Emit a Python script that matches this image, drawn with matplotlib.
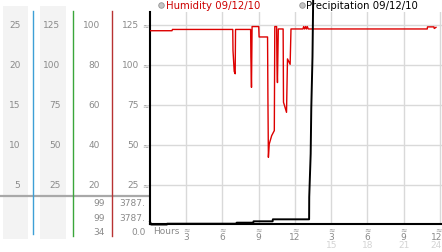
import matplotlib
matplotlib.use("Agg")
import matplotlib.pyplot as plt
from matplotlib.transforms import blended_transform_factory

# ---------------- data ----------------
hum_hours = [0, 1.82, 1.86, 6.85, 6.87, 6.97, 7.05, 7.08, 8.33, 8.35, 8.40, 8.45,
             9.00, 9.03, 9.73, 9.76, 9.80, 9.87, 10.07, 10.29, 10.33, 10.48, 10.51,
             10.55, 10.62, 11.02, 11.05, 11.30, 11.38, 11.60, 11.67, 12.66, 12.72,
             12.80, 12.88, 12.95, 13.02, 13.10, 13.40, 22.95, 22.97, 23.50, 23.53,
             23.67]
hum_values = [121.4, 121.4, 122.2, 122.2, 109, 96, 94.5, 122.2, 122.2, 105, 86, 124,
              124, 117.5, 117.5, 80, 42.3, 50.6, 55.8, 59, 124, 124, 100,
              89, 122.5, 122.5, 76.7, 70.4, 103.8, 100.4, 122.5, 122.5, 124,
              122.5, 124, 122.5, 124, 122.5, 122.5, 122.5, 123.8, 123.8, 122.8,
              123.5]

precip_hours = [0, 0.10, 1.40, 1.42, 7.15, 7.18, 8.55, 8.57, 10.15, 10.17, 13.17,
                13.18, 13.30, 13.35, 13.45, 13.52]
precip_values = [0.41, 0.06, 0.06, 0.16, 0.16, 0.29, 0.29, 0.46, 0.46, 0.71, 0.71,
                 3.5, 8.9, 14.6, 21, 30]

x_ticks = [3, 6, 9, 12, 15, 18, 21, 24]
x_labels_top = ["3", "6", "9", "12", "3", "6", "9", "12"]
x_labels_bottom = ["", "", "", "", "15", "18", "21", "24"]

hum_ticks = [25, 50, 75, 100, 125]            # column 4 (humidity axis)
col1_labels = [5, 10, 15, 20, 25]             # precipitation scale
col2_labels = [25, 50, 75, 100, 125]
col3_labels = [20, 40, 60, 80, 100]

col3_stats = ["99", "99", "34"]
col4_stats = ["3787.", "3787.", "0.0"]

legend_labels = ["Humidity 09/12/10", "Precipitation 09/12/10"]

# ---------------- figure ----------------
W, H = 442, 253
fig = plt.figure(figsize=(W / 100, H / 100), dpi=100)
fig.patch.set_facecolor("white")

# overlay in pixel coordinates for decorations
ov = fig.add_axes([0, 0, 1, 1], zorder=0)
ov.set_xlim(0, W)
ov.set_ylim(H, 0)
ov.axis("off")

# main axes
px_left, px_right, px_top, px_bottom = 150, 442, 13, 225
ax = fig.add_axes([px_left / W, (H - px_bottom) / H,
                   (px_right - px_left) / W, (px_bottom - px_top) / H], zorder=2)
ax.patch.set_alpha(0)
hum_lo, hum_hi = 0.625, 133.1
x_max = 24.17
ax.set_xlim(0, x_max)
ax.set_ylim(hum_lo, hum_hi)
for s in ["top", "right"]:
    ax.spines[s].set_visible(False)
for s in ["left", "bottom"]:
    ax.spines[s].set_color("black")
    ax.spines[s].set_linewidth(1.5)
ax.set_xticks(x_ticks)
ax.set_yticks(hum_ticks)
ax.tick_params(length=0, labelbottom=False, labelleft=False)
ax.grid(True, color="#d9d9d9", lw=1.0)
ax.set_axisbelow(True)

ax.plot(hum_hours, hum_values, color="#dd0000", lw=1.0, zorder=3)

ax2 = ax.twinx()
ax2.set_ylim(hum_lo / 5, hum_hi / 5)
ax2.axis("off")
ax2.plot(precip_hours, precip_values, color="black", lw=1.4, clip_on=False, zorder=4)

# ---------------- left panel ----------------
grey_txt = "#8a8a8a"
mark_col = "#9a9a9a"
fs = 6.5
# light bands
for x0, x1 in [(3, 28), (40, 65.5)]:
    ov.fill_between([x0, x1], 7, 240, color="#f3f3f3", lw=0, zorder=0)
# coloured column lines
for xc, c, y1 in [(33, "#3d9fd6", 235), (72.5, "#3aa63a", 237), (111.5, "#b83232", 237)]:
    ov.plot([xc, xc], [12, y1], color=c, lw=1.0, zorder=2)
# separator
ov.plot([0, 149], [197, 197], color="#a8a8a8", lw=1.6, zorder=1)

tr = blended_transform_factory(ov.transData, ax.transData)
for v in col1_labels:
    ov.text(20.5, v * 5, str(v), transform=tr, ha="right", va="center",
            fontsize=fs, color=grey_txt)
for v in col2_labels:
    ov.text(60.5, v, str(v), transform=tr, ha="right", va="center",
            fontsize=fs, color=grey_txt)
for v in col3_labels:
    ov.text(100, v * 1.25, str(v), transform=tr, ha="right", va="center",
            fontsize=fs, color=grey_txt)
for v in hum_ticks:
    ov.text(139, v, str(v), transform=tr, ha="right", va="center",
            fontsize=fs, color=grey_txt)
    ov.text(145.5, v, "\u2248", transform=tr, ha="center", va="center",
            fontsize=5.5, color=mark_col)

for i, (a, b) in enumerate(zip(col3_stats, col4_stats)):
    yy = 204 + i * 14.2
    ov.text(105, yy, a, ha="right", va="center", fontsize=fs, color=grey_txt)
    ov.text(145.5, yy, b, ha="right", va="center", fontsize=fs, color=grey_txt)

# ---------------- x labels ----------------
trx = blended_transform_factory(ax.transData, ov.transData)
ov.text(153, 231.5, "Hours", ha="left", va="center", fontsize=fs, color=grey_txt)
for xt, l1, l2 in zip(x_ticks, x_labels_top, x_labels_bottom):
    last = xt == x_ticks[-1]
    xpos = x_max if last else xt
    ha = "right" if last else "center"
    ov.text(xt - (0.12 if last else 0), 230.0, "\u2248", transform=trx,
            ha="center", va="center", fontsize=5.5, color=mark_col)
    ov.text(xpos, 237.8, l1, transform=trx, ha=ha, va="center",
            fontsize=fs, color=grey_txt)
    if l2:
        ov.text(xpos, 245.5, l2, transform=trx, ha=ha, va="center",
                fontsize=fs, color="#d4d4d4")

# ---------------- legend header ----------------
for xm, xtxt, lab, col in [(160.5, 166, legend_labels[0], "#cc0000"),
                           (301.5, 306, legend_labels[1], "black")]:
    ov.plot([xm], [6], marker="o", ms=4, mfc="#c4c4c4", mec="#959595", mew=0.6,
            zorder=3)
    ov.text(xtxt, 6.3, lab, ha="left", va="center", fontsize=7.3, color=col)

fig.savefig("out.png", dpi=100)
